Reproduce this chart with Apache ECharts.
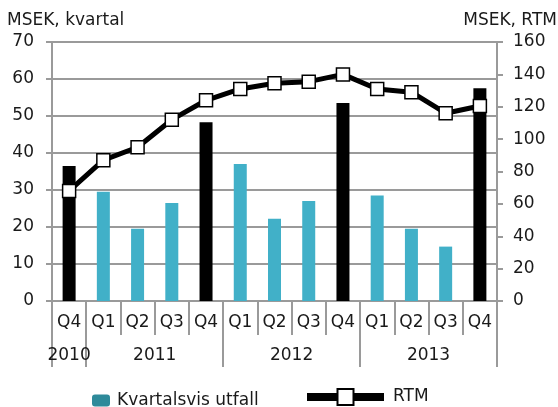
<!DOCTYPE html>
<html>
<head>
<meta charset="utf-8">
<script src="https://cdn.jsdelivr.net/npm/echarts@6/dist/echarts.min.js"></script>
<style>
  html, body { margin: 0; padding: 0; background: #fff; }
  #chart { width: 558px; height: 407px; }
</style>
</head>
<body>
<div id="chart"></div>
<script>
'use strict';

// quarter labels, one per bar
var quarters = ['Q4', 'Q1', 'Q2', 'Q3', 'Q4', 'Q1', 'Q2', 'Q3', 'Q4', 'Q1', 'Q2', 'Q3', 'Q4'];
// years and how many quarters each one covers
var years = ['2010', '2011', '2012', '2013'];
var yearSpans = [1, 4, 4, 4];
// MSEK per quarter (left axis)
var quarterValues = [36.5, 29.5, 19.5, 26.5, 48.3, 37, 22.2, 27, 53.5, 28.5, 19.5, 14.7, 57.5];
// MSEK rolling twelve months (right axis)
var rtmValues = [68, 87, 95, 112, 124, 131, 134.5, 135.5, 140, 131, 129, 116, 120.5];

var leftTicks = { min: 0, max: 70, interval: 10 };
var rightTicks = { min: 0, max: 160, interval: 20 };

var font = 'DejaVu Sans';
var gray = '#9a9a9a';
var teal = '#41b0c8';

// year boundaries and mid points on a 0..13 scale
var yearBounds = [0];
var yearMids = [];
for (var i = 0; i < yearSpans.length; i++) {
	var start = yearBounds[yearBounds.length - 1];
	yearMids.push(start + yearSpans[i] / 2);
	yearBounds.push(start + yearSpans[i]);
}

var barData = quarterValues.map(function (v, i) {
	return {
		value: v,
		itemStyle: { color: quarters[i] === 'Q4' ? '#000' : teal }
	};
});

var chart = echarts.init(document.getElementById('chart'));
chart.setOption({
	animation: false,
	textStyle: { fontFamily: font },
	title: [{
		text: 'MSEK, kvartal',
		left: 7,
		top: 12,
		padding: 0,
		textStyle: { fontFamily: font, fontSize: 17, fontWeight: 'normal', color: '#1a1a1a' }
	}, {
		text: 'MSEK, RTM',
		right: 1,
		top: 12,
		padding: 0,
		textStyle: { fontFamily: font, fontSize: 17, fontWeight: 'normal', color: '#1a1a1a' }
	}],
	legend: [{
		data: ['Kvartalsvis utfall'],
		left: 92,
		top: 392,
		padding: 0,
		itemWidth: 18,
		itemHeight: 12,
		itemGap: 10,
		textStyle: { fontFamily: font, fontSize: 17, color: '#1a1a1a', padding: [0, 0, 0, 2] }
	}, {
		data: ['RTM'],
		left: 303,
		top: 388,
		padding: 0,
		itemWidth: 77,
		itemHeight: 20,
		lineStyle: { width: 8, color: '#000' },
		textStyle: { fontFamily: font, fontSize: 17, color: '#1a1a1a', padding: [0, 0, 0, 4] }
	}],
	grid: {
		left: 52,
		right: 61,
		top: 42,
		bottom: 106
	},
	xAxis: [{
		type: 'category',
		data: quarters,
		boundaryGap: true,
		axisLine: { lineStyle: { color: gray, width: 2 } },
		axisTick: { show: true, interval: 0, length: 34, lineStyle: { color: gray, width: 2 } },
		axisLabel: { interval: 0, margin: 13, fontFamily: font, fontSize: 17, color: '#1a1a1a' },
		splitLine: { show: false }
	}, {
		type: 'value',
		position: 'bottom',
		min: 0,
		max: quarters.length,
		axisLine: { show: false },
		splitLine: { show: false },
		axisTick: {
			show: true,
			customValues: yearBounds,
			length: 66,
			lineStyle: { color: gray, width: 2 }
		},
		axisLabel: {
			customValues: yearMids,
			margin: 46,
			fontFamily: font,
			fontSize: 17,
			color: '#1a1a1a',
			formatter: function (v) {
				var idx = yearMids.indexOf(v);
				return idx >= 0 ? years[idx] : '';
			}
		}
	}],
	yAxis: [{
		type: 'value',
		position: 'left',
		min: leftTicks.min,
		max: leftTicks.max,
		interval: leftTicks.interval,
		axisLine: { show: true, lineStyle: { color: gray, width: 2 } },
		axisTick: { show: true, length: 6, lineStyle: { color: gray, width: 2 } },
		axisLabel: { margin: 18, fontFamily: font, fontSize: 17, color: '#1a1a1a' },
		splitLine: { show: true, lineStyle: { color: gray, width: 2 } }
	}, {
		type: 'value',
		position: 'right',
		min: rightTicks.min,
		max: rightTicks.max,
		interval: rightTicks.interval,
		axisLine: { show: true, lineStyle: { color: gray, width: 2 } },
		axisTick: { show: true, length: 6, lineStyle: { color: gray, width: 2 } },
		axisLabel: { margin: 16, fontFamily: font, fontSize: 17, color: '#1a1a1a' },
		splitLine: { show: false }
	}],
	series: [{
		name: 'Kvartalsvis utfall',
		type: 'bar',
		xAxisIndex: 0,
		yAxisIndex: 0,
		barWidth: 13,
		itemStyle: { color: '#2e8a9a' },
		data: barData
	}, {
		name: 'RTM',
		type: 'line',
		xAxisIndex: 0,
		yAxisIndex: 1,
		z: 5,
		symbol: 'rect',
		symbolSize: 13,
		lineStyle: { color: '#000', width: 5 },
		itemStyle: { color: '#fff', borderColor: '#000', borderWidth: 1.5 },
		data: rtmValues
	}]
});
</script>
</body>
</html>
